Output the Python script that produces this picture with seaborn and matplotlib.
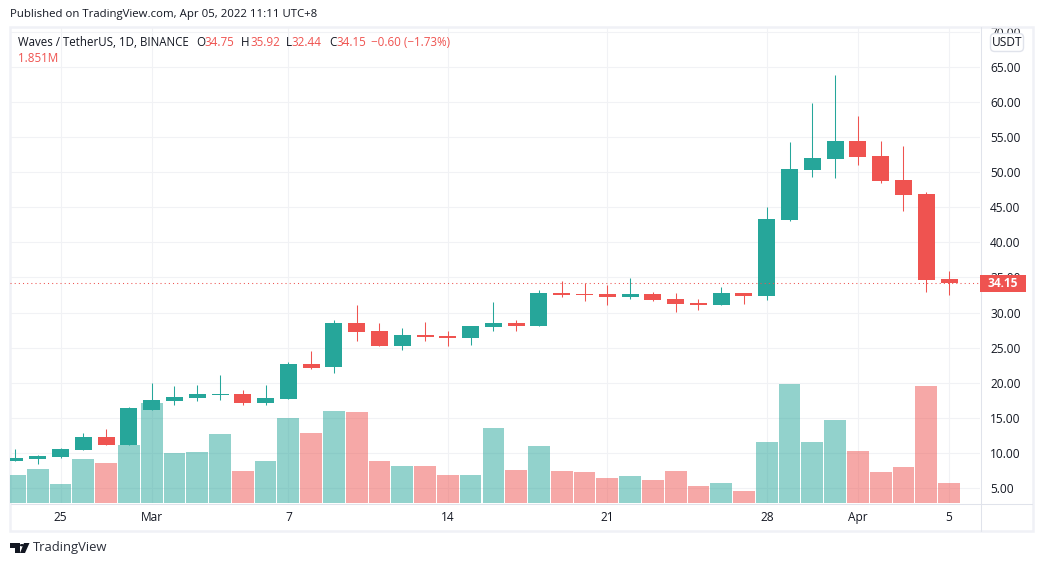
# Waves / TetherUS daily candles with volume, TradingView style

import numpy as np
import pandas as pd
import matplotlib
matplotlib.use("Agg")
import matplotlib.pyplot as plt
from matplotlib.patches import Rectangle, FancyBboxPatch, Polygon, Circle
import seaborn as sns

opens = [8.85, 9.13, 9.42, 10.41, 12.26, 11.13, 16.11, 17.39, 17.82, 18.25, 18.39, 17.11, 17.68, 22.66,
         22.24, 28.50, 27.36, 25.23, 26.79, 26.65, 26.37, 27.93, 28.50, 28.08, 32.78, 32.63, 32.63, 32.20,
         32.63, 31.92, 31.35, 31.07, 32.78, 32.35, 43.18, 50.30, 51.87, 54.43, 52.30, 48.87, 46.88, 34.75]
closes = [9.27, 9.56, 10.56, 12.26, 11.13, 16.40, 17.54, 17.96, 18.39, 18.39, 17.11, 17.82, 22.66, 22.09,
          28.50, 27.22, 25.23, 26.79, 26.51, 26.37, 28.08, 28.50, 28.08, 32.78, 32.49, 32.49, 32.20, 32.63,
          31.78, 31.21, 31.07, 32.78, 32.35, 43.32, 50.44, 52.00, 54.43, 52.15, 48.73, 46.74, 34.63, 34.15]
highs = [10.56, 9.70, 10.70, 12.83, 13.40, 16.54, 19.96, 19.53, 19.67, 21.10, 18.96, 19.67, 22.95, 24.52,
         28.93, 31.07, 28.50, 27.79, 28.65, 27.36, 28.08, 31.50, 28.93, 33.20, 34.49, 34.20, 33.92, 34.91,
         32.92, 32.78, 31.92, 33.63, 32.78, 45.03, 54.29, 59.84, 63.83, 58.00, 54.43, 53.72, 47.16, 35.92]
lows = [8.85, 8.42, 9.27, 10.41, 11.13, 11.13, 16.11, 16.82, 17.39, 17.54, 16.82, 16.82, 17.68, 21.95,
        21.38, 25.94, 25.23, 24.66, 25.94, 25.23, 25.37, 27.36, 27.36, 28.08, 32.20, 31.64, 31.07, 31.92,
        31.64, 30.07, 30.36, 31.07, 31.21, 31.78, 43.03, 49.30, 49.16, 51.00, 48.45, 44.46, 32.92, 32.44]
volumes = [2.59, 3.15, 1.76, 4.07, 3.70, 5.37, 9.26, 4.63, 4.72, 6.39, 2.96, 3.89, 7.87, 6.48,
           8.51, 8.42, 3.89, 3.42, 3.42, 2.59, 2.59, 6.94, 3.05, 5.28, 2.96, 2.87, 2.31, 2.50,
           2.13, 2.96, 1.57, 1.85, 1.11, 5.65, 11.01, 5.65, 7.68, 4.81, 2.87, 3.33, 10.83, 1.851]

tick_days = [2, 6, 12, 19, 26, 33, 37, 41]
tick_labels = ["25", "Mar", "7", "14", "21", "28", "Apr", "5"]
price_ticks = list(range(5, 75, 5))
last_price = 34.15

GREEN = "#26a69a"
RED = "#ef5350"
GRID = "#f1f2f5"
FRAME = "#f0f1f6"
LINE = "#e0e3eb"
INK = "#131722"
W, H = 1043, 566
XLIM = (-0.219, 42.36)
YLIM = (2.863, 70.67)


def fx(x):
    return x / W


def fy(y):
    return 1 - y / H


def label(x, y, s, color=INK, size=8.6, **kw):
    fig.text(fx(x), fy(y), s, color=color, fontsize=size, va="center", **kw)


sns.set_theme(style="white")
plt.rcParams["font.family"] = ["Open Sans", "DejaVu Sans"]

df = pd.DataFrame({"day": range(len(opens)), "open": opens, "close": closes, "high": highs, "low": lows, "volume": volumes})
df["up"] = df["close"] >= df["open"]
df["body_low"] = df[["open", "close"]].min(axis=1)
df["body"] = (df["close"] - df["open"]).abs()
colors = [GREEN if u else RED for u in df["up"]]

fig = plt.figure(figsize=(W / 100, H / 100), dpi=100)
ax = fig.add_axes([fx(10), fy(503), fx(970), 476 / H])
ax_vol = ax.twinx()
ax_candle = ax.twinx()
ax.set_zorder(0)
ax_vol.set_zorder(1)
ax_candle.set_zorder(2)
ax_vol.patch.set_visible(False)
ax_candle.patch.set_visible(False)

# volume bars
sns.barplot(data=df, x="day", y="volume", ax=ax_vol, width=0.955, color=GREEN, saturation=1, alpha=0.5, linewidth=0, errorbar=None)
for patch, c in zip(ax_vol.patches, colors):
    patch.set_facecolor(c)
    patch.set_alpha(0.5)
    patch.set_snap(True)

# candle bodies and wicks
sns.barplot(data=df, x="day", y="body", ax=ax_candle, bottom=df["body_low"].values, width=0.746, color=GREEN, saturation=1, linewidth=0, errorbar=None)
for patch, c in zip(ax_candle.patches, colors):
    patch.set_facecolor(c)
    patch.set_snap(True)
ax_candle.vlines(df["day"], df["low"], df["high"], colors=colors, linewidth=0.75, zorder=1)
ax_candle.axhline(last_price, color=RED, linewidth=0.75, linestyle=(0, (1, 3)), zorder=5)

ax.set_xlim(*XLIM)
ax.set_ylim(*YLIM)
ax_candle.set_ylim(*YLIM)
ax_vol.set_ylim(0, 44.05)
ax_vol.set_xlim(*XLIM)
ax_candle.set_xlim(*XLIM)

ax.set_yticks(price_ticks, [f"{p:.2f}" for p in price_ticks])
ax.yaxis.tick_right()
ax.set_xticks(tick_days, tick_labels)
ax.tick_params(axis="y", length=0, pad=7.2, labelsize=8.6, labelcolor=INK)
ax.tick_params(axis="x", length=0, pad=5.5, labelsize=8.6, labelcolor=INK)
ax.grid(True, color=GRID, linewidth=0.75)
for a in [ax_vol, ax_candle]:
    a.set_xlabel("")
    a.set_ylabel("")
    a.tick_params(left=False, right=False, bottom=False, top=False, labelleft=False, labelright=False, labelbottom=False)
    a.grid(False)
for a in [ax, ax_vol, ax_candle]:
    for s in a.spines.values():
        s.set_visible(False)

# chart frame
fig.add_artist(Rectangle((fx(10), fy(531)), fx(1023), 504 / H, transform=fig.transFigure, fill=False, edgecolor=FRAME, linewidth=1.8))
fig.add_artist(plt.Line2D([fx(980.5), fx(980.5)], [fy(27), fy(531)], color=LINE, linewidth=0.75))
fig.add_artist(plt.Line2D([fx(11), fx(1032)], [fy(503.5), fy(503.5)], color=LINE, linewidth=0.75))

# last price tag and currency button
fig.add_artist(Rectangle((fx(980), fy(292)), fx(46), 17 / H, transform=fig.transFigure, color=RED, linewidth=0, zorder=6))
fig.text(fx(1003), fy(283.5), "34.15", color="white", fontsize=8.6, fontweight="bold", ha="center", va="center", zorder=7)
fig.add_artist(FancyBboxPatch((fx(990.5), fy(51.5)), fx(33), 18 / H, boxstyle="round,pad=0,rounding_size=0.004", transform=fig.transFigure,
                              facecolor="white", edgecolor=LINE, linewidth=1, zorder=6, mutation_aspect=1.8))
fig.text(fx(1007), fy(42.5), "USDT", color=INK, fontsize=8.6, ha="center", va="center", zorder=7)

# header text
label(10, 15, "Published on TradingView.com, Apr 05, 2022 11:11 UTC+8", size=8.2)
label(18, 42, "Waves / TetherUS, 1D, BINANCE", size=8.3)
for x, s, c in [(196, "O", INK), (204, "34.75", RED), (241, "H", INK), (250, "35.92", RED), (286, "L", INK), (291, "32.44", RED),
                (329, "C", INK), (336, "34.15", RED), (371, "\u22120.60 (\u22121.73%)", RED)]:
    label(x, 42, s, color=c, size=8.4)
label(18, 59, "1.851M", color=RED, size=8.4)

# logo and footer
fig.add_artist(Polygon([(fx(10), fy(543)), (fx(20), fy(543)), (fx(20), fy(553)), (fx(15), fy(553)), (fx(15), fy(547.5)), (fx(10), fy(547.5))],
                       transform=fig.transFigure, color=INK, linewidth=0))
fig.add_artist(Polygon([(fx(24), fy(543)), (fx(29.5), fy(543)), (fx(25), fy(553)), (fx(20), fy(553))],
                       transform=fig.transFigure, color=INK, linewidth=0))
fig.add_artist(Circle((fx(22), fy(545.2)), 2.2 / W, transform=fig.transFigure, color=INK, linewidth=0))
label(33, 548, "TradingView", color="#2a2e39", size=9.4)

fig.savefig("out.png", dpi=100)
